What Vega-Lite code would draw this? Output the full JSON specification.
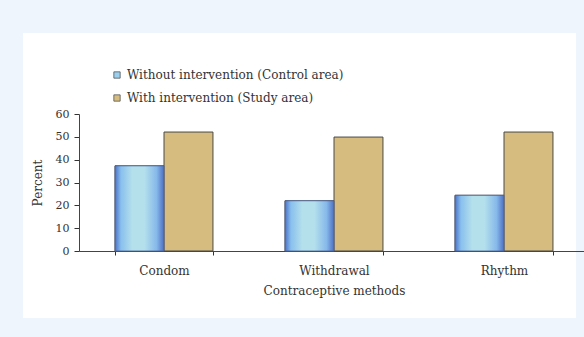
{
  "$schema": "https://vega.github.io/schema/vega-lite/v6.json",
  "width": 553,
  "height": 285,
  "autosize": {"type": "none"},
  "padding": {"left": 23, "top": 33, "right": 8, "bottom": 19},
  "background": "#EEF5FC",
  "config": {
    "view": {"fill": "white", "stroke": null},
    "font": "DejaVu Serif"
  },
  "data": {
    "values": [
      {"method": "Condom", "group": "Without intervention (Control area)", "percent": 37.3},
      {"method": "Condom", "group": "With intervention (Study area)", "percent": 52.1},
      {"method": "Withdrawal", "group": "Without intervention (Control area)", "percent": 22.0},
      {"method": "Withdrawal", "group": "With intervention (Study area)", "percent": 49.9},
      {"method": "Rhythm", "group": "Without intervention (Control area)", "percent": 24.4},
      {"method": "Rhythm", "group": "With intervention (Study area)", "percent": 52.1}
    ]
  },
  "encoding": {
    "x": {
      "field": "method",
      "type": "nominal",
      "sort": ["Condom", "Withdrawal", "Rhythm"],
      "scale": {"range": [56, 566], "paddingInner": 0.424, "paddingOuter": 0.212},
      "axis": {
        "title": "Contraceptive methods",
        "labelAngle": 0,
        "offset": -67,
        "tickBand": "extent",
        "tickSize": 4,
        "tickColor": "#333",
        "domainColor": "#444",
        "labelFont": "DejaVu Serif",
        "labelFontSize": 12,
        "labelColor": "#333",
        "labelPadding": 10,
        "titleFont": "DejaVu Serif",
        "titleFontSize": 12,
        "titleFontWeight": "normal",
        "titleColor": "#333",
        "titlePadding": 9
      }
    },
    "xOffset": {
      "field": "group",
      "type": "nominal",
      "sort": ["Without intervention (Control area)", "With intervention (Study area)"],
      "scale": {"paddingInner": 0, "paddingOuter": 0}
    },
    "y": {
      "field": "percent",
      "type": "quantitative",
      "scale": {"domain": [0, 60], "range": [218, 81], "nice": false},
      "axis": {
        "title": "Percent",
        "values": [0, 10, 20, 30, 40, 50, 60],
        "grid": false,
        "offset": -56,
        "tickSize": 5,
        "tickColor": "#333",
        "domainColor": "#444",
        "labelFont": "DejaVu Serif",
        "labelFontSize": 11,
        "labelColor": "#333",
        "labelPadding": 5,
        "titleFont": "DejaVu Serif",
        "titleFontSize": 12,
        "titleFontWeight": "normal",
        "titleColor": "#333",
        "titlePadding": 11
      }
    }
  },
  "layer": [
    {
      "mark": {"type": "bar", "stroke": "#4a4a4a", "strokeWidth": 1},
      "encoding": {
        "color": {
          "field": "group",
          "type": "nominal",
          "sort": ["Without intervention (Control area)", "With intervention (Study area)"],
          "scale": {"range": ["#9ACFEE", "#D6BC7E"]},
          "legend": {
            "title": null,
            "orient": "none",
            "legendX": 88,
            "legendY": 36,
            "symbolType": "square",
            "symbolSize": 40,
            "symbolStrokeColor": "#555",
            "symbolStrokeWidth": 0.8,
            "labelFont": "DejaVu Serif",
            "labelFontSize": 12,
            "labelColor": "#333",
            "labelLimit": 0,
            "rowPadding": 11,
            "labelOffset": 4
          }
        }
      }
    },
    {
      "transform": [{"filter": "datum.group === 'Without intervention (Control area)'"}],
      "mark": {
        "type": "bar",
        "stroke": "#4d5f92",
        "strokeWidth": 0.8,
        "fill": {
          "gradient": "linear",
          "x1": 0, "y1": 0, "x2": 1, "y2": 0,
          "stops": [
            {"offset": 0, "color": "#4D73C6"},
            {"offset": 0.12, "color": "#88C0EE"},
            {"offset": 0.35, "color": "#B4E0EC"},
            {"offset": 0.6, "color": "#B4E0EC"},
            {"offset": 0.85, "color": "#86B8EA"},
            {"offset": 1, "color": "#4D6FC2"}
          ]
        }
      }
    }
  ]
}
